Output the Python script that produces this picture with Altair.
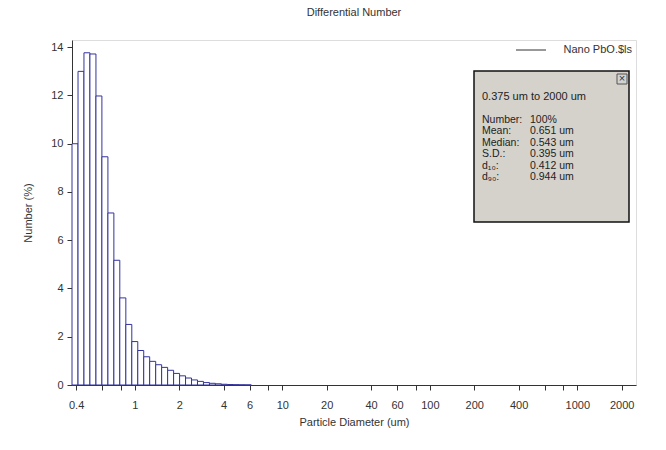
import altair as alt
import pandas as pd

# LS channel edges (um) and differential number (%) per channel
edges = [0.375, 0.412, 0.452, 0.496, 0.545, 0.598, 0.657, 0.721, 0.791, 0.869,
         0.954, 1.047, 1.149, 1.261, 1.385, 1.520, 1.669, 1.832, 2.011, 2.207,
         2.423, 2.660, 2.920, 3.206, 3.519, 3.862, 4.241, 4.656, 5.111, 5.611, 6.159]
number_pct = [10.0, 13.0, 13.77, 13.72, 11.98, 9.46, 7.13, 5.17, 3.61, 2.51,
              1.80, 1.43, 1.17, 0.98, 0.84, 0.73, 0.61, 0.48, 0.38, 0.29,
              0.21, 0.15, 0.10, 0.07, 0.05, 0.03, 0.02, 0.012, 0.006, 0.003]

x_ticks = [0.4, 0.6, 0.8, 1, 2, 4, 6, 8, 10, 20, 40, 60, 80, 100, 200, 400, 600, 800, 1000, 2000]
x_hidden = [0.6, 0.8, 8, 80, 600, 800]
y_ticks = [0, 2, 4, 6, 8, 10, 12, 14]

stat_labels = ["Number:", "Mean:", "Median:", "S.D.:", "d\u2081\u2080:", "d\u2089\u2080:"]
stat_values = ["100%", "0.651 um", "0.543 um", "0.395 um", "0.412 um", "0.944 um"]
range_text = "0.375 um to 2000 um"
series_name = "Nano PbO.$ls"

FONT = "Liberation Sans"
W, H = 564, 345

df = pd.DataFrame({"lo": edges[:-1], "hi": edges[1:], "v": number_pct})

hidden_expr = " || ".join(f"datum.value == {v}" for v in x_hidden)
xscale = alt.Scale(type="log", domain=[0.375, 2500], nice=False)

bars = alt.Chart(df).mark_rect(fill="white", stroke="#33339e", strokeWidth=1).encode(
    x=alt.X("lo:Q", scale=xscale,
            axis=alt.Axis(values=x_ticks, labelExpr=f"({hidden_expr}) ? '' : datum.label",
                          format="~g", title="Particle Diameter (um)", grid=False,
                          tickSize=5, tickColor="#333", domainColor="#333",
                          labelFont=FONT, labelFontSize=11, labelColor="#333",
                          titleFont=FONT, titleFontSize=11, titleFontWeight="normal",
                          titleColor="#333", labelPadding=9, titlePadding=6,
                          labelFlush=False)),
    x2="hi:Q",
    y=alt.Y("v:Q", scale=alt.Scale(domain=[0, 14.3], nice=False),
            axis=alt.Axis(values=y_ticks, title="Number (%)", grid=False,
                          tickSize=5, tickColor="#333", domainColor="#333",
                          labelFont=FONT, labelFontSize=11, labelColor="#333",
                          titleFont=FONT, titleFontSize=11, titleFontWeight="normal",
                          titleColor="#333", labelPadding=4, titlePadding=17)),
    y2=alt.datum(0),
)

# legend
leg_line = alt.Chart(pd.DataFrame({"a": [0]})).mark_rule(color="#333", strokeWidth=1).encode(
    x=alt.value(444), x2=alt.value(474), y=alt.value(10))
leg_text = alt.Chart(pd.DataFrame({"t": [series_name]})).mark_text(
    font=FONT, fontSize=11, color="#333", align="right", baseline="middle").encode(
    x=alt.value(560), y=alt.value(10), text="t:N")

# stats box
box = alt.Chart(pd.DataFrame({"a": [0]})).mark_rect(
    fill="#d5d2cb", stroke="#111", strokeWidth=1.5).encode(
    x=alt.value(402), x2=alt.value(557), y=alt.value(31), y2=alt.value(182))
close_btn = alt.Chart(pd.DataFrame({"a": [0]})).mark_rect(
    fill="#d5d2cb", stroke="#555", strokeWidth=1).encode(
    x=alt.value(545), x2=alt.value(555), y=alt.value(34), y2=alt.value(44))
close_x = alt.Chart(pd.DataFrame({"t": ["\u00d7"]})).mark_text(
    font=FONT, fontSize=11, color="#333", align="center", baseline="middle").encode(
    x=alt.value(550), y=alt.value(39), text="t:N")
range_mark = alt.Chart(pd.DataFrame({"t": [range_text]})).mark_text(
    font=FONT, fontSize=11, color="#222", align="left", baseline="middle").encode(
    x=alt.value(410), y=alt.value(57), text="t:N")

stats_df = pd.DataFrame({"lab": stat_labels, "val": stat_values, "row": list(range(len(stat_labels)))})
row_scale = alt.Scale(domain=[0, 5], range=[80, 137])
stat_lab = alt.Chart(stats_df).mark_text(
    font=FONT, fontSize=10.5, color="#222", align="left", baseline="middle").encode(
    x=alt.value(410), y=alt.Y("row:Q", scale=row_scale, axis=None),
    text="lab:N")
stat_val = alt.Chart(stats_df).mark_text(
    font=FONT, fontSize=10.5, color="#222", align="left", baseline="middle").encode(
    x=alt.value(458), y=alt.Y("row:Q", scale=row_scale, axis=None),
    text="val:N")

chart = alt.layer(bars, leg_line, leg_text, box, close_btn, close_x, range_mark, stat_lab, stat_val).resolve_scale(
    y="independent"
).properties(
    width=W, height=H,
    title=alt.TitleParams("Differential Number", font=FONT, fontSize=11, fontWeight="normal",
                          color="#333", anchor="middle", offset=22),
    autosize=alt.AutoSizeParams(type="none"),
    padding={"left": 72, "top": 40, "right": 30, "bottom": 65},
).configure_view(stroke="#555", strokeWidth=1).configure(background="white")

chart.save("out.html", embed_options={"renderer": "svg", "actions": False})
